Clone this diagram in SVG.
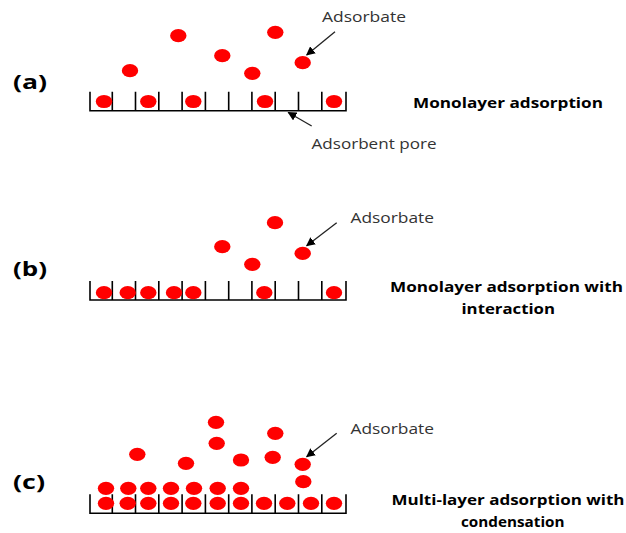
<svg xmlns="http://www.w3.org/2000/svg" width="626" height="533" viewBox="0 0 626 533">
<style>
.b{fill:#ff0000}
.w{stroke:#000;stroke-width:1.6;fill:none}
.lbl{font-family:"Open Sans",sans-serif;font-size:14px;fill:#333}
.bt{font-family:"Open Sans",sans-serif;font-size:15px;font-weight:bold;fill:#000}
.pl{font-family:"Open Sans",sans-serif;font-size:20px;font-weight:bold;fill:#000}
.ar{stroke:#222;stroke-width:1.3;fill:none;marker-end:url(#ah)}
</style>
<defs>
<marker id="ah" viewBox="0 0 10 10" refX="9" refY="5" markerWidth="9" markerHeight="9" markerUnits="userSpaceOnUse" orient="auto">
<path d="M0,0 L10,5 L0,10 z" fill="#000"/>
</marker>
<path id="surf" d="M90,-19 V0 H346 V-19 M112.3,-19 V0 M135.5,-19 V0 M158.8,-19 V0 M182.1,-19 V0 M205.4,-19 V0 M228.7,-19 V0 M251.9,-19 V0 M275.2,-19 V0 M298.5,-19 V0 M321.8,-19 V0"/>
<ellipse id="m" rx="8.2" ry="6.6"/>
</defs>

<g id="panel-a">
<text class="pl" x="13" y="89" textLength="34" lengthAdjust="spacingAndGlyphs">(a)</text>
<use href="#surf" class="w" transform="translate(0,110.7)"/>
<g class="b">
<use href="#m" x="104" y="101.5"/><use href="#m" x="148.3" y="101.5"/><use href="#m" x="193.3" y="101.5"/><use href="#m" x="265" y="101.5"/><use href="#m" x="334" y="101.5"/>
<use href="#m" x="130" y="70.7"/><use href="#m" x="178.3" y="35.7"/><use href="#m" x="222.3" y="55.7"/><use href="#m" x="252.3" y="73.3"/><use href="#m" x="275.3" y="32.3"/><use href="#m" x="302.7" y="62.7"/>
</g>
<text class="lbl" x="322" y="22" textLength="84" lengthAdjust="spacingAndGlyphs">Adsorbate</text>
<text class="lbl" x="311.5" y="149" textLength="125" lengthAdjust="spacingAndGlyphs">Adsorbent pore</text>
<text class="bt" x="413" y="108" textLength="190" lengthAdjust="spacingAndGlyphs">Monolayer adsorption</text>
</g>

<g id="panel-b">
<text class="pl" x="13" y="276" textLength="34" lengthAdjust="spacingAndGlyphs">(b)</text>
<use href="#surf" class="w" transform="translate(0,300)"/>
<g class="b">
<use href="#m" x="104" y="292.7"/><use href="#m" x="127.7" y="292.7"/><use href="#m" x="148.3" y="292.7"/><use href="#m" x="174" y="292.7"/><use href="#m" x="193.3" y="292.7"/><use href="#m" x="264.3" y="292.7"/><use href="#m" x="334" y="292.7"/>
<use href="#m" x="222.3" y="246.7"/><use href="#m" x="252.3" y="264.3"/><use href="#m" x="275" y="222.7"/><use href="#m" x="302.7" y="253.3"/>
</g>
<text class="lbl" x="350.5" y="223" textLength="83.5" lengthAdjust="spacingAndGlyphs">Adsorbate</text>
<text class="bt" x="390" y="292" textLength="233" lengthAdjust="spacingAndGlyphs">Monolayer adsorption with</text>
<text class="bt" x="461.5" y="314" textLength="93.5" lengthAdjust="spacingAndGlyphs">interaction</text>
</g>

<g id="panel-c">
<text class="pl" x="13" y="489" textLength="32" lengthAdjust="spacingAndGlyphs">(c)</text>
<use href="#surf" class="w" transform="translate(0,513.3)"/>
<g class="b">
<use href="#m" x="106" y="503.3"/><use href="#m" x="127.7" y="503.3"/><use href="#m" x="148.3" y="503.3"/><use href="#m" x="171" y="503.3"/><use href="#m" x="193.3" y="503.3"/><use href="#m" x="217.7" y="503.3"/><use href="#m" x="241" y="503.3"/><use href="#m" x="264" y="503.3"/><use href="#m" x="287.3" y="503.3"/><use href="#m" x="311" y="503.3"/><use href="#m" x="334" y="503.3"/>
<use href="#m" x="106" y="488.3"/><use href="#m" x="128.3" y="488.3"/><use href="#m" x="148.3" y="488.3"/><use href="#m" x="171" y="488.3"/><use href="#m" x="194" y="488.3"/><use href="#m" x="217.7" y="488.3"/><use href="#m" x="241" y="488.3"/>
<use href="#m" x="137.3" y="454.3"/><use href="#m" x="186" y="463.3"/><use href="#m" x="216" y="422.3"/><use href="#m" x="216.7" y="443.3"/><use href="#m" x="241" y="460"/><use href="#m" x="275.3" y="433.3"/><use href="#m" x="272.7" y="457.3"/><use href="#m" x="302.7" y="464.3"/><use href="#m" x="303.3" y="481.7"/>
</g>
<text class="lbl" x="350.5" y="434.3" textLength="83.5" lengthAdjust="spacingAndGlyphs">Adsorbate</text>
<text class="bt" x="391.5" y="505" textLength="233" lengthAdjust="spacingAndGlyphs">Multi-layer adsorption with</text>
<text class="bt" x="461" y="527" textLength="103.5" lengthAdjust="spacingAndGlyphs">condensation</text>
</g>

<g id="connectors">
<line class="ar" x1="335" y1="31.7" x2="306.7" y2="55"/>
<line class="ar" x1="311.7" y1="126" x2="288.3" y2="112.5"/>
<line class="ar" x1="336.7" y1="222.7" x2="306.7" y2="245.7"/>
<line class="ar" x1="336.7" y1="433.3" x2="306.7" y2="456.7"/>
</g>
</svg>
